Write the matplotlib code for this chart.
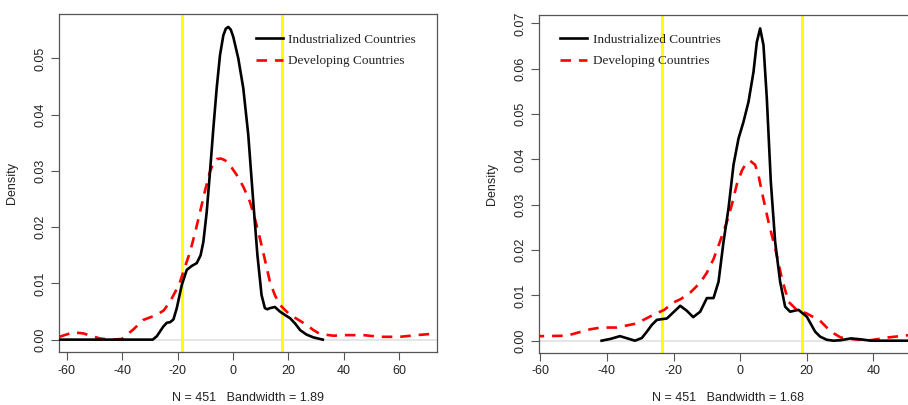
import matplotlib
matplotlib.use("Agg")
import matplotlib.pyplot as plt

plt.rcParams['axes.unicode_minus'] = False
plt.rcParams['font.family'] = ['Liberation Sans', 'DejaVu Sans']

# ---- Left panel data ----
left_ind_x = [-62.8, -29.0, -27.5, -25.2, -23.9, -22.7, -21.5, -20.3, -18.5, -16.7, -14.9, -13.1, -11.7,
              -10.7, -9.5, -8.3, -7.1, -5.9, -4.7, -3.5, -2.6, -1.7, -0.8, 0.1, 1.9, 3.7, 5.5, 7.3, 8.8,
              10.3, 11.5, 12.4, 13.3, 15.1, 16.9, 18.7, 20.6, 22.5, 24.2, 26.5, 29.0, 32.4]
left_ind_y = [0.0, 0.0, 0.0006, 0.0023, 0.0030, 0.0031, 0.0036, 0.0056, 0.0097, 0.0124, 0.0131, 0.0136,
              0.0150, 0.0174, 0.0227, 0.0299, 0.0376, 0.0447, 0.0506, 0.0541, 0.0553, 0.0556, 0.0551,
              0.0538, 0.0500, 0.0447, 0.0364, 0.0245, 0.0150, 0.0079, 0.0056, 0.0054, 0.0056, 0.0058,
              0.0050, 0.0044, 0.0038, 0.0028, 0.0017, 0.0009, 0.0004, 0.0]
left_dev_x = [-62.7, -57.6, -54.0, -48.0, -44.4, -40.2, -36.0, -32.4, -27.5, -25.0, -22.7, -20.3, -19.1,
              -17.3, -15.5, -13.7, -11.9, -10.1, -8.3, -7.1, -5.9, -4.4, -2.9, -0.8, 1.3, 3.7, 6.1, 7.9,
              9.7, 11.5, 13.3, 15.1, 16.9, 18.7, 20.6, 23.0, 26.6, 29.0, 31.4, 36.2, 41.0, 47.0, 53.0,
              60.2, 66.3, 73.5]
left_dev_y = [0.0005, 0.0013, 0.0011, 0.0002, 0.0, 0.0001, 0.0018, 0.0035, 0.0044, 0.0052, 0.0068, 0.0090,
              0.0103, 0.0130, 0.0156, 0.0190, 0.0227, 0.0265, 0.0299, 0.0314, 0.0321, 0.0322, 0.0319,
              0.0308, 0.0293, 0.0272, 0.0245, 0.0215, 0.0180, 0.0142, 0.0103, 0.0079, 0.0062, 0.0053,
              0.0044, 0.0037, 0.0026, 0.0017, 0.0010, 0.0007, 0.0008, 0.0008, 0.0005, 0.0005, 0.0008,
              0.0011]
left_vlines = [-18.4, 17.8]
left_label = "N = 451   Bandwidth = 1.89"

# ---- Right panel data ----
right_ind_x = [-41.6, -38.9, -36.1, -33.8, -31.6, -29.5, -28.0, -26.5, -25.0, -22.0, -20.0, -18.0, -16.0,
               -14.1, -12.0, -10.0, -8.0, -6.5, -5.0, -3.5, -2.0, -0.5, 1.0, 2.5, 4.0, 5.0, 6.0, 7.0, 8.0,
               9.2, 10.5, 12.0, 13.5, 15.0, 17.5, 20.0, 22.5, 24.0, 26.0, 28.0, 30.2, 33.2, 36.2, 39.2,
               75.0]
right_ind_y = [0.0, 0.0004, 0.0010, 0.0005, 0.0, 0.0006, 0.0020, 0.0035, 0.0046, 0.0049, 0.0063, 0.0077,
               0.0066, 0.0052, 0.0064, 0.0094, 0.0094, 0.0130, 0.0218, 0.0292, 0.0388, 0.0446, 0.0483,
               0.0527, 0.0593, 0.0659, 0.0689, 0.0652, 0.0535, 0.0351, 0.0218, 0.0130, 0.0075, 0.0064,
               0.0068, 0.0053, 0.0020, 0.0009, 0.0002, 0.0, 0.0001, 0.0005, 0.0003, 0.0, 0.0]
right_dev_x = [-62.0, -60.1, -52.1, -45.1, -41.9, -37.1, -31.1, -26.1, -22.8, -20.1, -17.8, -15.0, -12.0,
               -10.0, -8.0, -6.0, -4.0, -2.5, -1.0, 0.5, 1.5, 3.0, 4.5, 5.5, 6.5, 8.5, 10.5, 12.5, 14.5,
               17.0, 20.0, 22.0, 24.0, 27.2, 30.2, 34.2, 39.2, 44.2, 50.4, 60.0]
right_dev_y = [0.0011, 0.0010, 0.0011, 0.0025, 0.0029, 0.0029, 0.0038, 0.0057, 0.0068, 0.0084, 0.0092,
               0.0106, 0.0128, 0.0150, 0.0180, 0.0220, 0.0262, 0.0300, 0.0345, 0.0375, 0.0388, 0.0397,
               0.0388, 0.0365, 0.0329, 0.0262, 0.0204, 0.0138, 0.0086, 0.0068, 0.0060, 0.0052, 0.0044,
               0.0020, 0.0007, 0.0003, 0.0001, 0.0007, 0.0012, 0.0015]
right_vlines = [-23.45, 18.6]
right_label = "N = 451   Bandwidth = 1.68"

legend_labels = ["Industrialized Countries", "Developing Countries"]
left_xticks = [-60, -40, -20, 0, 20, 40, 60]
right_xticks = [-60, -40, -20, 0, 20, 40]
left_yticks = [0.0, 0.01, 0.02, 0.03, 0.04, 0.05]
right_yticks = [0.0, 0.01, 0.02, 0.03, 0.04, 0.05, 0.06, 0.07]

W, H = 908, 405
fig = plt.figure(figsize=(W / 100, H / 100), dpi=100)

def px_axes(x0, y0, x1, y1):
    return fig.add_axes([x0 / W, 1 - y1 / H, (x1 - x0) / W, (y1 - y0) / H])

axL = px_axes(59, 14, 437, 352)
axR = px_axes(539.3, 15.3, 990, 352.7)

gray = "#555555"
txt = "#222222"

def style(ax, xlim, ylim, yticks, xticks, vlines, ind, dev, legend_xy):
    ax.set_xlim(*xlim)
    ax.set_ylim(*ylim)
    ax.axhline(0, color="#e0e0e0", lw=1.2, zorder=1)
    for v in vlines:
        ax.axvline(v, color="#ffff00", lw=2.2, zorder=2)
    ax.plot(ind[0], ind[1], color="black", lw=1.9, zorder=4, solid_joinstyle="round",
            label=legend_labels[0])
    ax.plot(dev[0], dev[1], color="#ff0000", lw=1.9, ls=(0, (4, 3)), zorder=3,
            dash_joinstyle="round", label=legend_labels[1])
    ax.set_xticks(xticks)
    ax.set_xticklabels([str(t) for t in xticks])
    ax.set_yticks(yticks)
    ax.set_yticklabels(["%.2f" % t for t in yticks], rotation=90, va="center")
    ax.tick_params(direction="out", length=6, width=0.8, color=gray, labelsize=9,
                   labelcolor=txt, pad=3)
    for s in ax.spines.values():
        s.set_color(gray)
        s.set_linewidth(0.9)
    ax.set_ylabel("Density", fontsize=9, labelpad=12, color=txt)
    leg = ax.legend(loc="upper left", bbox_to_anchor=legend_xy, bbox_transform=fig.transFigure,
                    frameon=False, handlelength=2.05, handletextpad=0.42, labelspacing=0.72,
                    prop={"family": "Liberation Serif", "size": 9.5}, borderaxespad=0,
                    borderpad=0)
    for t in leg.get_texts():
        t.set_color(txt)

style(axL, (-62.8, 73.6), (-0.0022, 0.0579), left_yticks, left_xticks, left_vlines,
      (left_ind_x, left_ind_y), (left_dev_x, left_dev_y), (255.7 / W, 1 - 33.5 / H))
style(axR, (-60.3, 75.0), (-0.00265, 0.0718), right_yticks, right_xticks, right_vlines,
      (right_ind_x, right_ind_y), (right_dev_x, right_dev_y), (560 / W, 1 - 33.5 / H))

fig.text(248 / W, 1 - 398 / H, left_label, ha="center", va="center", fontsize=9, color=txt)
fig.text(728 / W, 1 - 398 / H, right_label, ha="center", va="center", fontsize=9, color=txt)

fig.savefig("out.png", dpi=100)
